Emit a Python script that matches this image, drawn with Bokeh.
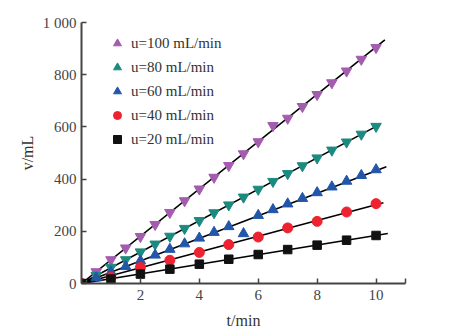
import numpy as np
from bokeh.plotting import figure
from bokeh.models import Range1d, FixedTicker, Legend, LegendItem
from bokeh.embed import file_html
from bokeh.resources import INLINE

# ---- data ----
t_half = [0, 0.5, 1, 1.5, 2, 2.5, 3, 3.5, 4, 4.5, 5, 5.5, 6, 6.5, 7, 7.5, 8, 8.5, 9, 9.5, 10]
t_one = [0, 1, 2, 3, 4, 5, 6, 7, 8, 9, 10]

v_100 = [0, 45, 91, 136, 180, 226, 272, 317, 362, 407, 452, 497, 543, 605, 633, 678, 724, 769, 814, 859, 904]
v_80 = [0, 31, 62, 91, 121, 151, 181, 211, 241, 271, 301, 331, 361, 391, 421, 451, 481, 511, 542, 572, 602]
v_60 = [0, 22, 44, 65, 87, 109, 131, 152, 174, 196, 218, 191, 261, 283, 305, 326, 348, 370, 392, 414, 436]
v_40 = [0, 24, 61, 89, 119, 149, 178, 213, 238, 274, 306]
v_20 = [0, 17, 36, 55, 74, 93, 111, 130, 147, 166, 184]

labels = ["u=100 mL/min", "u=80 mL/min", "u=60 mL/min", "u=40 mL/min", "u=20 mL/min"]
x_ticks = [2, 4, 6, 8, 10, 11]
y_ticks = [0, 200, 400, 600, 800, 1000]
y_tick_labels = {1000: "1 000"}
x_title = "t/min"
y_title = "v/mL"

# ---- styles ----
colors = ["#A35CAE", "#1B8A7F", "#2356A8", "#EE2230", "#111111"]
plot_markers = ["inverted_triangle", "inverted_triangle", "triangle", "circle", "square"]
legend_markers = ["triangle", "triangle", "triangle", "circle", "square"]
sizes = [10.5, 10.5, 10.5, 10, 8.5]
line_end = [10.3, 10.1, 10.35, 10.25, 10.4]
FONT = "Liberation Serif"

series = [(t_half, v_100), (t_half, v_80), (t_half, v_60), (t_one, v_40), (t_one, v_20)]

p = figure(width=467, height=334, output_backend="svg", toolbar_location=None,
           x_range=Range1d(0, 11), y_range=Range1d(0, 1000),
           min_border_left=81, min_border_right=62, min_border_top=22, min_border_bottom=51)
p.grid.visible = False
p.outline_line_color = None
p.background_fill_color = "white"

# fitted lines (through origin, from data)
for (t, v), te in zip(series, line_end):
    t_arr = np.array(t, dtype=float)
    v_arr = np.array(v, dtype=float)
    k = (t_arr * v_arr).sum() / (t_arr * t_arr).sum()
    p.line([0, te], [0, k * te], line_color="black", line_width=1.6)

for (t, v), c, m, s in zip(series, colors, plot_markers, sizes):
    p.scatter(t, v, marker=m, size=s, fill_color=c, line_color=c)

# legend with dummy renderers (upright markers as in the original key)
items = []
for lab, c, m, s in zip(labels, colors, legend_markers, sizes):
    r = p.scatter(x=[np.nan], y=[np.nan], marker=m, size=s - 1, fill_color=c, line_color=c)
    items.append(LegendItem(label=lab, renderers=[r]))
legend = Legend(items=items, location=(26, 134), padding=0, spacing=4, margin=0,
                glyph_width=20, glyph_height=20, label_height=20, label_standoff=4,
                border_line_color=None, background_fill_alpha=0,
                label_text_font=FONT, label_text_font_size="15px", label_text_color="#333333")
p.add_layout(legend)

for ax in (p.xaxis[0], p.yaxis[0]):
    ax.axis_line_color = "#444444"
    ax.axis_line_width = 2
    ax.major_tick_line_color = "#444444"
    ax.major_tick_line_width = 1.5
    ax.major_tick_in = 5
    ax.major_tick_out = 0
    ax.minor_tick_line_color = None
    ax.major_label_text_font = FONT
    ax.major_label_text_font_size = "15px"
    ax.major_label_text_color = "#444444"
    ax.axis_label_text_font = FONT
    ax.axis_label_text_font_size = "16px"
    ax.axis_label_text_font_style = "normal"
    ax.axis_label_text_color = "#333333"

p.xaxis.ticker = FixedTicker(ticks=x_ticks)
p.xaxis.major_label_overrides = {11: ""}
p.xaxis.major_label_standoff = 6
p.xaxis.axis_label = x_title
p.xaxis.axis_label_standoff = 9
p.yaxis.ticker = FixedTicker(ticks=y_ticks)
p.yaxis.major_label_overrides = y_tick_labels
p.yaxis.major_label_standoff = 5
p.yaxis.axis_label = y_title
p.yaxis.axis_label_standoff = 4

open("out.html", "w").write(file_html(p, INLINE))
